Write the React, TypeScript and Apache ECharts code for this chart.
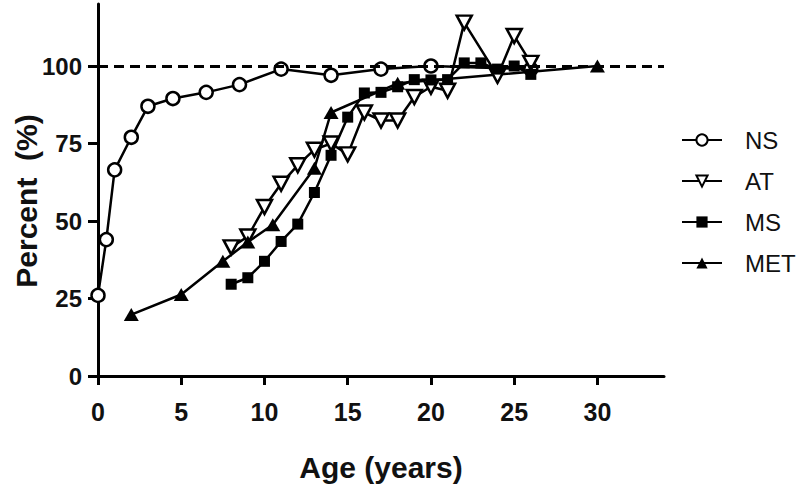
import React, { useEffect, useRef } from "react";
import * as echarts from "echarts";

const nsX = [0, 0.5, 1, 2, 3, 4.5, 6.5, 8.5, 11, 14, 17, 20, 26];
const nsY = [26, 44, 66.5, 77, 87, 89.5, 91.5, 94, 99, 97, 99, 100, 99];

const atX = [8, 9, 10, 11, 12, 13, 14, 15, 16, 17, 18, 19, 20, 21, 22, 24, 25, 26];
const atY = [41.5, 45, 54.5, 62, 68, 73, 75, 71.5, 85, 82.4, 82.4, 90, 93.3, 92, 114, 96.8, 109.7, 101];

const msX = [8, 9, 10, 11, 12, 13, 14, 15, 16, 17, 18, 19, 20, 21, 22, 23, 24, 25, 26];
const msY = [29.6, 31.7, 37, 43.4, 49, 59.2, 71.2, 83.5, 91.3, 91.5, 93.3, 95.6, 95.5, 95.6, 101, 101, 99, 100, 97.3];

const metX = [2, 5, 7.5, 9, 10.5, 13, 14, 18, 30];
const metY = [19.8, 26.3, 37, 43.2, 48.8, 67, 85, 94.4, 100];

const xTicks = [0, 5, 10, 15, 20, 25, 30];
const yTicks = [0, 25, 50, 75, 100];
const refLine = 100;

const pair = (xs: number[], ys: number[]) => xs.map((x, i) => [x, ys[i]]);

export default function App() {
  const ref = useRef<HTMLDivElement>(null);
  useEffect(() => {
    if (!ref.current) return;
    const chart = echarts.init(ref.current, null, { renderer: "svg" });
    const font = "Arial, 'Liberation Sans', Helvetica, sans-serif";
    const lineBase = { color: "#000", width: 2.5 };
    chart.setOption({
      animation: false,
      backgroundColor: "#fff",
      textStyle: { fontFamily: font },
      grid: { left: 98, right: 136, top: 4, bottom: 108, containLabel: false },
      legend: {
        orient: "vertical",
        left: 676,
        top: 123,
        itemWidth: 40,
        itemHeight: 14,
        itemGap: 17,
        textStyle: { fontSize: 24, color: "#111", fontFamily: font, padding: [0, 0, 0, 18] },
        data: ["NS", "AT", "MS", "MET"],
      },
      graphic: [
        {
          type: "text",
          x: 26,
          y: 201,
          rotation: Math.PI / 2,
          style: {
            text: "Percent  (%)",
            fontSize: 30,
            fontWeight: "bold",
            fill: "#111",
            fontFamily: font,
            align: "center",
            verticalAlign: "middle",
          },
        },
      ],
      xAxis: {
        type: "value",
        min: 0,
        max: 34,
        interval: 5,
        name: "Age (years)",
        nameLocation: "middle",
        nameGap: 76,
        nameTextStyle: { fontSize: 30, fontWeight: "bold", color: "#111", fontFamily: font },
        splitLine: { show: false },
        axisLine: { lineStyle: { color: "#000", width: 3 } },
        axisTick: { length: 9, lineStyle: { color: "#000", width: 3 }, customValues: xTicks },
        axisLabel: { customValues: xTicks, fontSize: 25, fontWeight: "bold", color: "#111", margin: 23 },
      },
      yAxis: {
        type: "value",
        min: 0,
        max: 120,
        interval: 25,
        splitLine: { show: false },
        axisLine: { lineStyle: { color: "#000", width: 3 } },
        axisTick: { length: 10, lineStyle: { color: "#000", width: 3 }, customValues: yTicks },
        axisLabel: { customValues: yTicks, fontSize: 24, fontWeight: "bold", color: "#111", margin: 16 },
      },
      series: [
        {
          type: "line",
          name: "ref",
          data: [],
          z: 1,
          markLine: {
            silent: true,
            symbol: "none",
            label: { show: false },
            lineStyle: { color: "#000", width: 3, type: [10, 6] },
            data: [{ yAxis: refLine }],
          },
        },
        {
          type: "line",
          name: "NS",
          data: pair(nsX, nsY),
          symbol: "circle",
          symbolSize: 13,
          lineStyle: lineBase,
          itemStyle: { color: "#fff", borderColor: "#000", borderWidth: 2.5 },
          z: 3,
        },
        {
          type: "line",
          name: "AT",
          data: pair(atX, atY),
          symbol: "triangle",
          symbolRotate: 180,
          symbolSize: [15, 14],
          lineStyle: lineBase,
          itemStyle: { color: "#fff", borderColor: "#000", borderWidth: 2.5 },
          z: 3,
        },
        {
          type: "line",
          name: "MS",
          data: pair(msX, msY),
          symbol: "rect",
          symbolSize: 11,
          lineStyle: lineBase,
          itemStyle: { color: "#000", borderColor: "#000", borderWidth: 0 },
          z: 3,
        },
        {
          type: "line",
          name: "MET",
          data: pair(metX, metY),
          symbol: "triangle",
          symbolSize: [15, 13],
          lineStyle: lineBase,
          itemStyle: { color: "#000", borderColor: "#000", borderWidth: 0 },
          z: 3,
        },
      ],
    });
    return () => chart.dispose();
  }, []);
  return <div ref={ref} style={{ width: 800, height: 487, position: "absolute", left: 0, top: 0 }} />;
}
